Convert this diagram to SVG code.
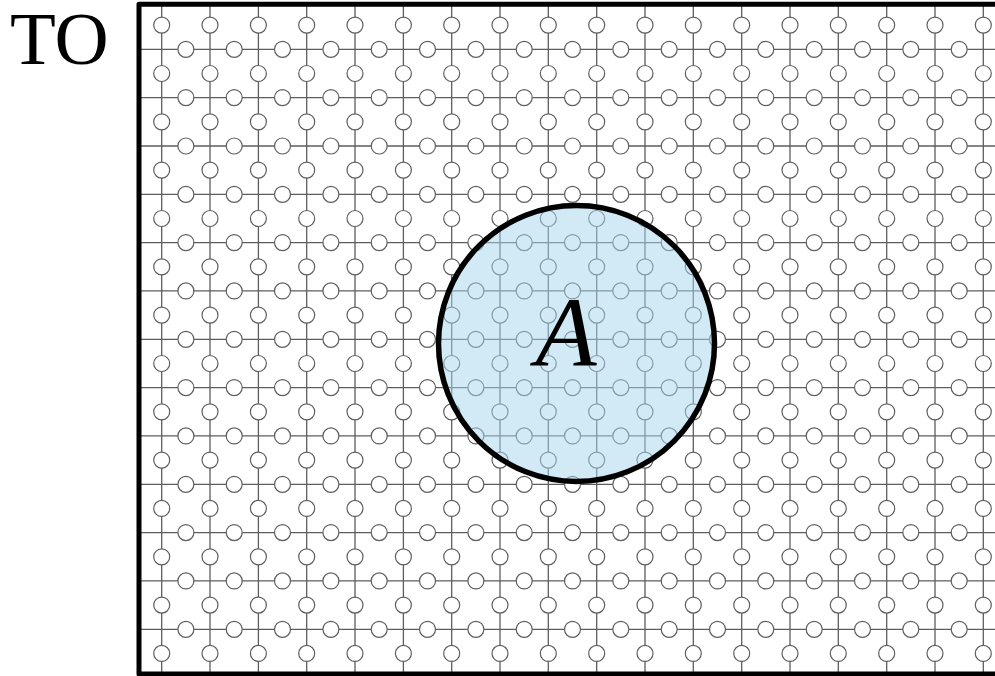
<svg xmlns="http://www.w3.org/2000/svg" xmlns:xlink="http://www.w3.org/1999/xlink" width="995" height="676" viewBox="0 0 995 676">
<style>
.ln{fill:none;stroke:#5e5e5e;stroke-width:1.3}
.nd{fill:#fff;stroke:#5e5e5e;stroke-width:1.2}
.frame{fill:none;stroke:#000;stroke-width:5;stroke-linejoin:round}
.region{fill:#a6d5ec;fill-opacity:0.5;stroke:#000;stroke-width:5.5}
.lbl{font-family:"Liberation Serif","Times New Roman",serif;fill:#000}
</style>
<defs>
<g id="vrow" class="nd">
<circle cx="161.7" cy="0" r="8"/><circle cx="210.0" cy="0" r="8"/><circle cx="258.4" cy="0" r="8"/><circle cx="306.7" cy="0" r="8"/><circle cx="355.0" cy="0" r="8"/><circle cx="403.4" cy="0" r="8"/><circle cx="451.7" cy="0" r="8"/><circle cx="500.0" cy="0" r="8"/><circle cx="548.3" cy="0" r="8"/><circle cx="596.7" cy="0" r="8"/><circle cx="645.0" cy="0" r="8"/><circle cx="693.3" cy="0" r="8"/><circle cx="741.7" cy="0" r="8"/><circle cx="790.0" cy="0" r="8"/><circle cx="838.3" cy="0" r="8"/><circle cx="886.7" cy="0" r="8"/><circle cx="935.0" cy="0" r="8"/><circle cx="983.3" cy="0" r="8"/>
</g>
<g id="hrow" class="nd">
<circle cx="185.9" cy="0" r="8"/><circle cx="234.2" cy="0" r="8"/><circle cx="282.5" cy="0" r="8"/><circle cx="330.9" cy="0" r="8"/><circle cx="379.2" cy="0" r="8"/><circle cx="427.5" cy="0" r="8"/><circle cx="475.9" cy="0" r="8"/><circle cx="524.2" cy="0" r="8"/><circle cx="572.5" cy="0" r="8"/><circle cx="620.8" cy="0" r="8"/><circle cx="669.2" cy="0" r="8"/><circle cx="717.5" cy="0" r="8"/><circle cx="765.8" cy="0" r="8"/><circle cx="814.2" cy="0" r="8"/><circle cx="862.5" cy="0" r="8"/><circle cx="910.8" cy="0" r="8"/><circle cx="959.2" cy="0" r="8"/>
</g>
</defs>
<rect width="995" height="676" fill="#fff"/>
<g id="connectors">
<path class="ln" d="M161.7 4V674M210.0 4V674M258.4 4V674M306.7 4V674M355.0 4V674M403.4 4V674M451.7 4V674M500.0 4V674M548.3 4V674M596.7 4V674M645.0 4V674M693.3 4V674M741.7 4V674M790.0 4V674M838.3 4V674M886.7 4V674M935.0 4V674M983.3 4V674"/>
<path class="ln" d="M139 49.3H995M139 97.6H995M139 146.0H995M139 194.3H995M139 242.6H995M139 290.9H995M139 339.3H995M139 387.6H995M139 435.9H995M139 484.3H995M139 532.6H995M139 580.9H995M139 629.3H995"/>
</g>
<g id="lattice-nodes">
<use xlink:href="#vrow" y="25.1"/><use xlink:href="#vrow" y="73.5"/><use xlink:href="#vrow" y="121.8"/><use xlink:href="#vrow" y="170.1"/><use xlink:href="#vrow" y="218.5"/><use xlink:href="#vrow" y="266.8"/><use xlink:href="#vrow" y="315.1"/><use xlink:href="#vrow" y="363.5"/><use xlink:href="#vrow" y="411.8"/><use xlink:href="#vrow" y="460.1"/><use xlink:href="#vrow" y="508.4"/><use xlink:href="#vrow" y="556.8"/><use xlink:href="#vrow" y="605.1"/><use xlink:href="#vrow" y="653.4"/>
<use xlink:href="#hrow" y="49.3"/><use xlink:href="#hrow" y="97.6"/><use xlink:href="#hrow" y="146.0"/><use xlink:href="#hrow" y="194.3"/><use xlink:href="#hrow" y="242.6"/><use xlink:href="#hrow" y="290.9"/><use xlink:href="#hrow" y="339.3"/><use xlink:href="#hrow" y="387.6"/><use xlink:href="#hrow" y="435.9"/><use xlink:href="#hrow" y="484.3"/><use xlink:href="#hrow" y="532.6"/><use xlink:href="#hrow" y="580.9"/><use xlink:href="#hrow" y="629.3"/>
</g>
<g id="frame">
<path class="frame" d="M998 4.2H139V674H998"/>
</g>
<g id="region-A">
<circle class="region" cx="576.5" cy="343.5" r="138"/>
<text class="lbl" x="566" y="366" font-size="100" font-style="italic" text-anchor="middle">A</text>
</g>
<g id="label-TO">
<text class="lbl" x="10" y="64" font-size="75">TO</text>
</g>
</svg>
